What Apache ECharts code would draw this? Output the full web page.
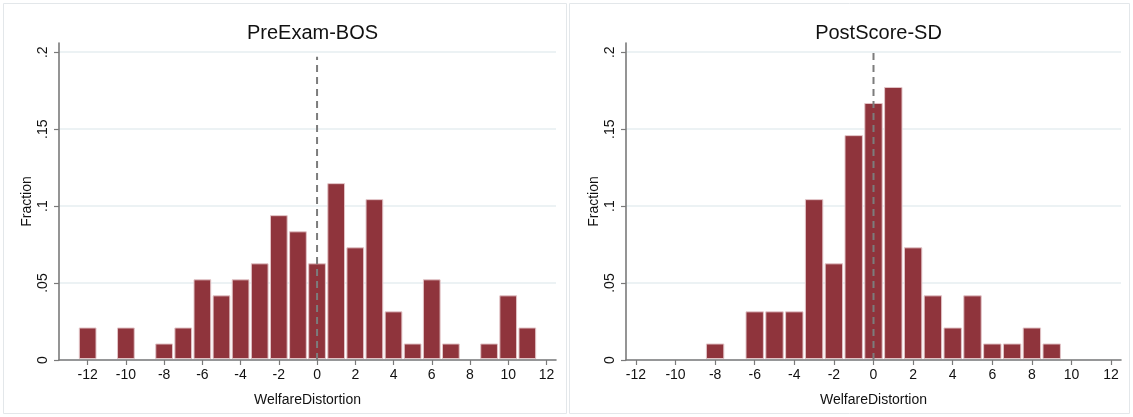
<!DOCTYPE html>
<html>
<head>
<meta charset="utf-8">
<script src="https://cdn.jsdelivr.net/npm/echarts@6/dist/echarts.min.js"></script>
<style>
  html, body { margin: 0; padding: 0; background: #fff; }
  #chart { width: 1133px; height: 417px; }
</style>
</head>
<body>
<div id="chart"></div>
<script>
// Histogram bins (bin centres) and the fraction of observations in each
const bins = [-12, -11, -10, -9, -8, -7, -6, -5, -4, -3, -2, -1, 0, 1, 2, 3, 4, 5, 6, 7, 8, 9, 10, 11];
const preExamBOS = [0.0208, 0, 0.0208, 0, 0.0104, 0.0208, 0.0521, 0.0417, 0.0521, 0.0625, 0.0938, 0.0833,
                    0.0625, 0.1146, 0.0729, 0.1042, 0.0313, 0.0104, 0.0521, 0.0104, 0, 0.0104, 0.0417, 0.0208];
const postScoreSD = [0, 0, 0, 0, 0.0104, 0, 0.0313, 0.0313, 0.0313, 0.1042, 0.0625, 0.1458,
                     0.1667, 0.1771, 0.0729, 0.0417, 0.0208, 0.0417, 0.0104, 0.0104, 0.0208, 0.0104, 0, 0];
const panelTitles = ['PreExam-BOS', 'PostScore-SD'];
const xTicks = [-12, -10, -8, -6, -4, -2, 0, 2, 4, 6, 8, 10, 12];
const yTicks = [0, 0.05, 0.1, 0.15, 0.2];
const xRanges = [[-13.5, 12.5], [-12.5, 12.5]];
const refLines = [[[0, 0], [0, 0.197]], [[0, 0], [0, 0.201]]];

const FONT = '"Liberation Sans", Arial, sans-serif';
const BAR = '#8f343c';
const AXIS = '#7a7a7a';

const grids = [
  { left: 59, top: 43, width: 497, height: 317 },
  { left: 626, top: 43, width: 495, height: 317 }
];

function renderBar(params, api) {
  const x = api.value(0), y = api.value(1);
  if (!y) return null;
  const p0 = api.coord([x - 0.5, y]);
  const p1 = api.coord([x + 0.5, 0]);
  return {
    type: 'rect',
    shape: { x: p0[0] + 1.2, y: p0[1], width: p1[0] - p0[0] - 2.4, height: p1[1] - p0[1] - 1.5 },
    style: { fill: BAR, stroke: '#e2c4c7', lineWidth: 1 }
  };
}

function yLabel(v) {
  if (v === 0) return '0';
  return String(+v.toFixed(2)).replace(/^0/, '');
}

const xAxes = xRanges.map((r, i) => ({
  type: 'value', gridIndex: i, min: r[0], max: r[1],
  axisLine: { show: true, onZero: false, lineStyle: { color: AXIS, width: 1.6 } },
  axisTick: { show: true, length: 5, customValues: xTicks, lineStyle: { color: AXIS, width: 1.2 } },
  axisLabel: { customValues: xTicks, fontSize: 14, color: '#111', margin: 8, fontFamily: FONT },
  splitLine: { show: false },
  name: 'WelfareDistortion', nameLocation: 'middle', nameGap: 33,
  nameTextStyle: { fontSize: 14, color: '#111', fontFamily: FONT }
}));

const yAxes = [0, 1].map(i => ({
  type: 'value', gridIndex: i, min: 0, max: 0.206,
  axisLine: { show: true, onZero: false, lineStyle: { color: AXIS, width: 1.6 } },
  axisTick: { show: true, length: 5, customValues: yTicks, lineStyle: { color: AXIS, width: 1.2 } },
  axisLabel: { customValues: yTicks, rotate: 90, formatter: yLabel, fontSize: 14, color: '#111', margin: 9, fontFamily: FONT },
  splitLine: { show: true, lineStyle: { color: '#e6eef0', width: 1.5 } },
  name: 'Fraction', nameLocation: 'middle', nameGap: 25,
  nameTextStyle: { fontSize: 14, color: '#111', fontFamily: FONT }
}));

const panels = [preExamBOS, postScoreSD];
const series = [];
panels.forEach((vals, i) => {
  series.push({
    type: 'custom', xAxisIndex: i, yAxisIndex: i,
    renderItem: renderBar,
    encode: { x: 0, y: 1 },
    data: bins.map((b, k) => [b, vals[k]]),
    z: 2
  });
  // dashed reference line at zero distortion
  series.push({
    type: 'line', xAxisIndex: i, yAxisIndex: i,
    data: refLines[i], symbol: 'none', silent: true,
    lineStyle: { color: '#7c7c7c', width: 2, type: [7, 5] },
    z: 3
  });
});

const chart = echarts.init(document.getElementById('chart'), null, { renderer: 'canvas' });
chart.setOption({
  animation: false,
  backgroundColor: '#fff',
  textStyle: { fontFamily: FONT },
  title: panelTitles.map((t, i) => ({
    text: t,
    left: grids[i].left + grids[i].width / 2,
    top: 18,
    textAlign: 'center',
    textStyle: { fontSize: 20, fontWeight: 'normal', color: '#111', fontFamily: FONT }
  })),
  graphic: [
    { type: 'rect', shape: { x: 3.5, y: 3.5, width: 563, height: 410 }, style: { fill: 'none', stroke: '#e3e7ea', lineWidth: 1 }, silent: true },
    { type: 'rect', shape: { x: 569.5, y: 3.5, width: 560, height: 410 }, style: { fill: 'none', stroke: '#e3e7ea', lineWidth: 1 }, silent: true }
  ],
  grid: grids,
  xAxis: xAxes,
  yAxis: yAxes,
  series: series
});
</script>
</body>
</html>
